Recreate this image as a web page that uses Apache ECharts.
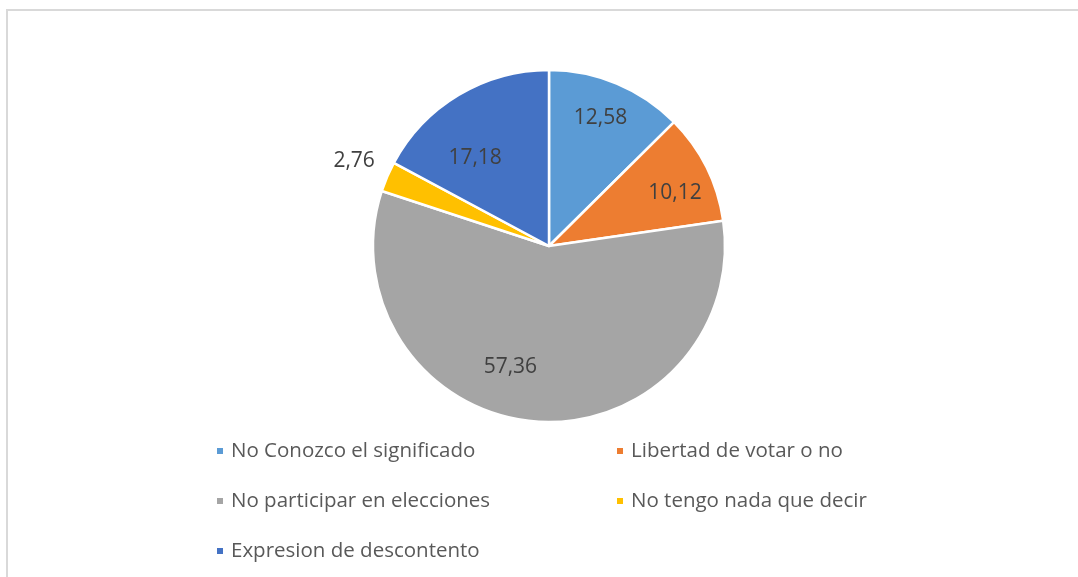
<!DOCTYPE html>
<html>
<head>
<meta charset="utf-8">
<script src="https://cdn.jsdelivr.net/npm/echarts@6/dist/echarts.min.js"></script>
<style>
html,body{margin:0;padding:0;background:#fff;}
#c{width:1078px;height:577px;}
</style>
</head>
<body>
<div id="c"></div>
<script>
var categories = ['No Conozco el significado', 'Libertad de votar o no', 'No participar en elecciones', 'No tengo nada que decir', 'Expresion de descontento'];
var values = [12.58, 10.12, 57.36, 2.76, 17.18];
var colors = ['#5B9BD5', '#ED7D31', '#A5A5A5', '#FFC000', '#4472C4'];
var outsideLabel = [false, false, false, true, false];
// small label nudges (style) to mimic the original best-fit placement
var labelNudge = [[0,-4],[6,7],[-27,-12],[0,-13],[-5,27]];

function fmt(v){ return String(v.toFixed(2)).replace('.', ','); }

var chart = echarts.init(document.getElementById('c'), null, {renderer:'canvas'});
var FONT = '"Open Sans"';

var mainData = categories.map(function(n, i){
  return {
    name: n, value: values[i],
    itemStyle: {color: colors[i]},
    label: {show: outsideLabel[i]}
  };
});
var helperData = categories.map(function(n, i){
  return {
    name: n, value: values[i],
    label: {show: !outsideLabel[i]}
  };
});
function nudge(p){
  var d = labelNudge[p.dataIndex] || [0,0];
  return {dx: d[0], dy: d[1]};
}

chart.setOption({
  animation: false,
  backgroundColor: '#ffffff',
  graphic: [{
    type: 'rect', silent: true,
    shape: {x: 7, y: 10, width: 1200, height: 700},
    style: {fill: 'none', stroke: '#D9D9D9', lineWidth: 2}
  }],
  legend: {
    left: 210, top: 421, width: 830,
    orient: 'horizontal',
    itemWidth: 8, itemHeight: 8, itemGap: 0,
    icon: 'rect',
    selectedMode: false,
    data: categories,
    textStyle: {
      fontFamily: FONT, fontSize: 20.5, color: '#595959',
      width: 384, lineHeight: 50, padding: [0,0,0,2]
    }
  },
  series: [{
    type: 'pie',
    center: [549, 246],
    radius: [0, 176],
    startAngle: 90,
    clockwise: true,
    avoidLabelOverlap: false,
    itemStyle: {borderColor: '#ffffff', borderWidth: 2.5},
    label: {
      position: 'outside',
      fontFamily: FONT, fontSize: 21, color: '#404040',
      formatter: function(p){ return fmt(p.value); }
    },
    labelLine: {show: false, length: 8, length2: 0},
    labelLayout: nudge,
    emphasis: {disabled: true},
    data: mainData
  }, {
    type: 'pie',
    silent: true,
    center: [549, 246],
    radius: [100, 162],
    startAngle: 90,
    clockwise: true,
    avoidLabelOverlap: false,
    itemStyle: {color: 'rgba(0,0,0,0)', borderWidth: 0},
    label: {
      position: 'inside',
      fontFamily: FONT, fontSize: 21, color: '#404040',
      formatter: function(p){ return fmt(p.value); }
    },
    labelLine: {show: false},
    labelLayout: nudge,
    emphasis: {disabled: true},
    data: helperData
  }]
});
</script>
</body>
</html>
